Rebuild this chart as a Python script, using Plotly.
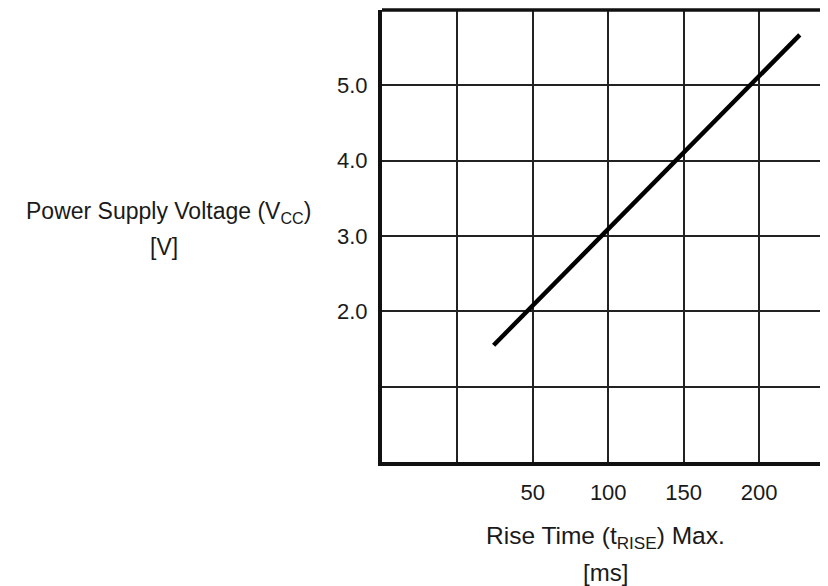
import plotly.graph_objects as go

# Data
rise_time_ms = [24, 227]
voltage_v = [1.55, 5.67]

x_tick_vals = [0, 50, 100, 150, 200, 250]
x_tick_text = ["", "50", "100", "150", "200", ""]
y_tick_vals = [1, 2, 3, 4, 5]
y_tick_text = ["", "2.0", "3.0", "4.0", "5.0"]

x_range = [-50, 245.7]
y_range = [0, 6]

FONT = "Liberation Sans, Arial, sans-serif"
TXT = "#1a1a1a"

fig = go.Figure()
fig.add_trace(go.Scatter(
    x=rise_time_ms, y=voltage_v, mode="lines",
    line=dict(color="#000000", width=4.5),
    showlegend=False, hoverinfo="skip",
))

fig.update_layout(
    width=820, height=578,
    margin=dict(l=374, r=0, t=2, b=124),
    paper_bgcolor="white", plot_bgcolor="white",
    font=dict(family=FONT, size=22, color=TXT),
    xaxis=dict(
        range=x_range, tickvals=x_tick_vals, ticktext=x_tick_text,
        showgrid=True, gridcolor="#222222", gridwidth=1.6,
        zeroline=False, showline=True, linecolor="#111111", linewidth=4,
        ticks="", ticklabelstandoff=8,
        tickfont=dict(family=FONT, size=22, color=TXT),
    ),
    yaxis=dict(
        range=y_range, tickvals=y_tick_vals, ticktext=y_tick_text,
        showgrid=True, gridcolor="#222222", gridwidth=1.6,
        zeroline=False, showline=True, linecolor="#111111", linewidth=4,
        ticks="", ticklabelstandoff=6,
        tickfont=dict(family=FONT, size=22, color=TXT),
    ),
    shapes=[dict(type="line", xref="paper", yref="paper", x0=0, x1=1, y0=1, y1=1,
                 line=dict(color="#111111", width=3.5))],
    annotations=[
        dict(text="Power Supply Voltage (V<sub>CC</sub>)", xref="paper", yref="paper",
             x=-0.1547, y=0.551, xanchor="right", yanchor="middle", showarrow=False,
             font=dict(family=FONT, size=23, color=TXT)),
        dict(text="[V]", xref="paper", yref="paper",
             x=-0.489, y=0.476, xanchor="center", yanchor="middle", showarrow=False,
             font=dict(family=FONT, size=23, color=TXT)),
        dict(text="Rise Time (t<sub>RISE</sub>) Max.", xref="paper", yref="paper",
             x=0.5, y=-0.168, xanchor="center", yanchor="middle", showarrow=False,
             font=dict(family=FONT, size=24.5, color=TXT)),
        dict(text="[ms]", xref="paper", yref="paper",
             x=0.5, y=-0.2434, xanchor="center", yanchor="middle", showarrow=False,
             font=dict(family=FONT, size=24, color=TXT)),
    ],
)

fig.write_html("out.html")
